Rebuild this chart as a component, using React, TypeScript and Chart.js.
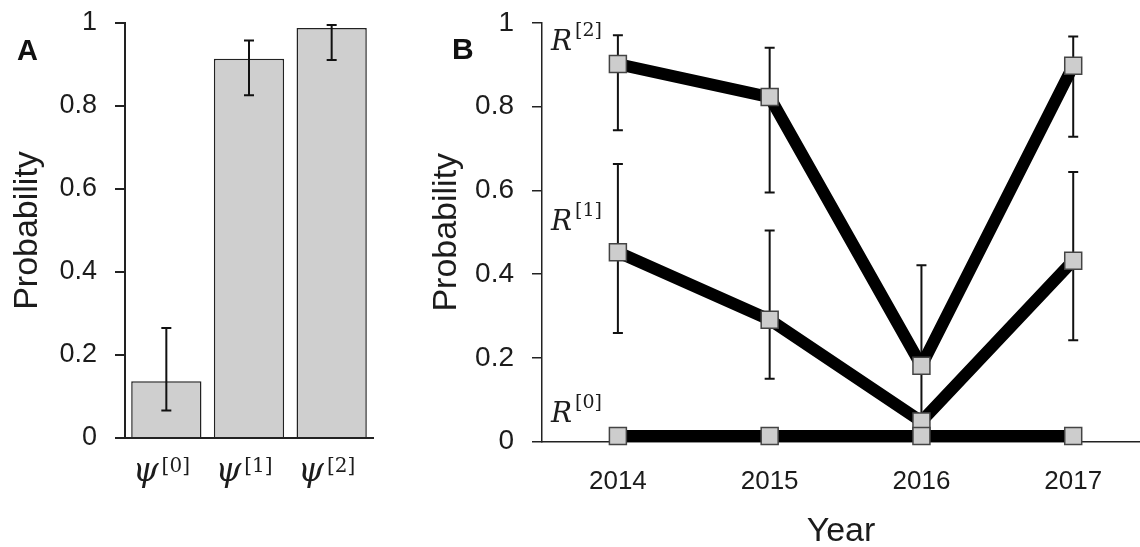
import React, { useEffect, useRef } from "react";
import { Chart, registerables } from "chart.js";
Chart.register(...registerables);

// ---------- Panel A data ----------
const psiSuperscripts = ["[0]", "[1]", "[2]"];
const barValues = [0.137, 0.914, 0.988];
const barErrLow = [0.066, 0.826, 0.911];
const barErrHigh = [0.265, 0.958, 0.995];

// ---------- Panel B data ----------
const years = [2014, 2015, 2016, 2017];
const r0Values = [0.013, 0.013, 0.013, 0.013];
const r1Values = [0.452, 0.291, 0.048, 0.432];
const r2Values = [0.902, 0.823, 0.181, 0.898];
const r1Low = [0.259, 0.15, null, 0.242];
const r1High = [0.663, 0.504, null, 0.644];
const r2Low = [0.744, 0.595, 0.0, 0.728];
const r2High = [0.971, 0.941, 0.421, 0.968];
const seriesSuperscripts = ["[0]", "[1]", "[2]"];
const seriesLabelValues = [0.047, 0.506, 0.935];

const SANS = "'Liberation Sans', Arial, sans-serif";
const SERIF = "'DejaVu Serif', 'Liberation Serif', serif";
const TEXT = "#1c1c1c";

const fmtTick = (v: any) => String(Math.round(Number(v) * 10) / 10);

function drawSup(ctx: CanvasRenderingContext2D, base: string, sup: string, cx: number, baseline: number, baseFont: string, supFont: string, supRise: number, center: boolean) {
  ctx.save();
  ctx.fillStyle = TEXT;
  ctx.textBaseline = "alphabetic";
  ctx.textAlign = "left";
  ctx.font = baseFont;
  const wb = ctx.measureText(base).width;
  ctx.font = supFont;
  const ws = ctx.measureText(sup).width;
  const gap = 3;
  const total = wb + gap + ws;
  const x0 = center ? cx - total / 2 : cx;
  ctx.font = baseFont;
  ctx.fillText(base, x0, baseline);
  ctx.font = supFont;
  ctx.fillText(sup, x0 + wb + gap, baseline - supRise);
  ctx.restore();
}

const panelAPlugin = {
  id: "panelA",
  afterDatasetsDraw(chart: any) {
    const ctx = chart.ctx;
    const y = chart.scales.y;
    const meta = chart.getDatasetMeta(0);
    ctx.save();
    ctx.strokeStyle = "#111";
    ctx.lineWidth = 2;
    barValues.forEach((_, i) => {
      const x = meta.data[i].x;
      const yl = y.getPixelForValue(barErrLow[i]);
      const yh = y.getPixelForValue(barErrHigh[i]);
      ctx.beginPath();
      ctx.moveTo(x, yl);
      ctx.lineTo(x, yh);
      ctx.moveTo(x - 5, yl);
      ctx.lineTo(x + 5, yl);
      ctx.moveTo(x - 5, yh);
      ctx.lineTo(x + 5, yh);
      ctx.stroke();
    });
    ctx.restore();
  },
  afterDraw(chart: any) {
    const ctx = chart.ctx;
    const xs = chart.scales.x;
    const bottom = chart.chartArea.bottom;
    psiSuperscripts.forEach((s, i) => {
      const x = xs.getPixelForValue(i);
      drawSup(ctx, "ψ", s, x - 5, bottom + 43, `italic 33px ${SERIF}`, `20px ${SERIF}`, 9, true);
    });
    ctx.save();
    ctx.fillStyle = "#111";
    ctx.font = `bold 29px ${SANS}`;
    ctx.textBaseline = "alphabetic";
    ctx.fillText("A", 17, 60);
    ctx.restore();
  },
};

const panelBPlugin = {
  id: "panelB",
  beforeDatasetsDraw(chart: any) {
    const ctx = chart.ctx;
    const xs = chart.scales.x;
    const ys = chart.scales.y;
    ctx.save();
    ctx.strokeStyle = "#111";
    ctx.lineWidth = 2;
    const groups = [
      [r1Low, r1High],
      [r2Low, r2High],
    ];
    groups.forEach(([lo, hi]) => {
      years.forEach((yr, i) => {
        if (lo[i] === null || hi[i] === null) return;
        const x = xs.getPixelForValue(yr);
        const yl = ys.getPixelForValue(lo[i] as number);
        const yh = ys.getPixelForValue(hi[i] as number);
        ctx.beginPath();
        ctx.moveTo(x, yl);
        ctx.lineTo(x, yh);
        ctx.moveTo(x - 5, yl);
        ctx.lineTo(x + 5, yl);
        ctx.moveTo(x - 5, yh);
        ctx.lineTo(x + 5, yh);
        ctx.stroke();
      });
    });
    ctx.restore();
  },
  afterDraw(chart: any) {
    const ctx = chart.ctx;
    const ys = chart.scales.y;
    const left = chart.chartArea.left;
    seriesSuperscripts.forEach((s, i) => {
      drawSup(ctx, "R", s, left + 9, ys.getPixelForValue(seriesLabelValues[i]), `italic 28px ${SERIF}`, `19px ${SERIF}`, 14, false);
    });
    ctx.save();
    ctx.fillStyle = "#111";
    ctx.font = `bold 30px ${SANS}`;
    ctx.textBaseline = "alphabetic";
    ctx.fillText("B", 52, 59);
    ctx.restore();
  },
};

export default function App() {
  const refA = useRef<HTMLCanvasElement>(null);
  const refB = useRef<HTMLCanvasElement>(null);

  useEffect(() => {
    const chartA = new Chart(refA.current!, {
      type: "bar",
      data: {
        labels: psiSuperscripts.map((s) => "ψ" + s),
        datasets: [
          {
            data: barValues,
            backgroundColor: "#cfcfcf",
            borderColor: "#222",
            borderWidth: 1.5,
            barPercentage: 0.85,
            categoryPercentage: 1,
          },
        ],
      },
      options: {
        responsive: false,
        animation: false,
        layout: { autoPadding: false, padding: { left: 0, right: 27, top: 23, bottom: 0 } },
        plugins: { legend: { display: false }, tooltip: { enabled: false } },
        scales: {
          x: {
            grid: { display: false, drawTicks: false },
            border: { color: "#222", width: 2 },
            ticks: { display: false },
            afterFit: (s: any) => {
              s.height = 109;
              s.paddingLeft = 0;
              s.paddingRight = 0;
            },
          },
          y: {
            min: 0,
            max: 1,
            ticks: { stepSize: 0.2, font: { family: SANS, size: 27 }, color: TEXT, padding: 18, callback: fmtTick },
            grid: { drawOnChartArea: false, tickLength: 10, color: "#222", lineWidth: 2 },
            border: { color: "#222", width: 2 },
            title: {
              display: true,
              text: "Probability",
              font: { family: SANS, size: 34 },
              color: TEXT,
              padding: { top: 7, bottom: 0 },
            },
            afterFit: (s: any) => {
              s.width = 125;
              s.paddingTop = 0;
              s.paddingBottom = 0;
            },
          },
        },
      } as any,
      plugins: [panelAPlugin],
    });

    const mk = (vals: number[]) => years.map((yr, i) => ({ x: yr, y: vals[i] }));
    const lineStyle = {
      borderColor: "#000",
      borderWidth: 12,
      borderJoinStyle: "bevel" as const,
      pointStyle: "rect" as const,
      pointRadius: 12,
      pointBackgroundColor: "#cdcdcd",
      pointBorderColor: "#444",
      pointBorderWidth: 1.5,
      tension: 0,
      clip: false as any,
    };
    const chartB = new Chart(refB.current!, {
      type: "line",
      data: {
        datasets: [
          { label: "R[0]", data: mk(r0Values), ...lineStyle },
          { label: "R[1]", data: mk(r1Values), ...lineStyle },
          { label: "R[2]", data: mk(r2Values), ...lineStyle },
        ],
      },
      options: {
        responsive: false,
        animation: false,
        layout: { autoPadding: false, padding: { left: 0, right: 0, top: 23, bottom: 0 } },
        plugins: { legend: { display: false }, tooltip: { enabled: false } },
        scales: {
          x: {
            type: "linear",
            min: 2013.5,
            max: 2017.44,
            afterBuildTicks: (s: any) => {
              s.ticks = years.map((v) => ({ value: v }));
            },
            ticks: {
              callback: (v: any) => String(v),
              font: { family: SANS, size: 26 },
              color: TEXT,
              padding: 25,
              autoSkip: false,
              maxRotation: 0,
            },
            grid: { display: false, drawTicks: false },
            border: { color: "#222", width: 1.5 },
            title: {
              display: true,
              text: "Year",
              font: { family: SANS, size: 34 },
              color: TEXT,
              padding: { top: 0, bottom: -5 },
            },
            afterFit: (s: any) => {
              s.height = 105.5;
              s.paddingLeft = 0;
              s.paddingRight = 0;
            },
          },
          y: {
            min: 0,
            max: 1,
            ticks: { stepSize: 0.2, font: { family: SANS, size: 28 }, color: TEXT, padding: 18, callback: fmtTick },
            grid: { drawOnChartArea: false, tickLength: 10, color: "#222", lineWidth: 1.5 },
            border: { color: "#222", width: 1.5 },
            title: {
              display: true,
              text: "Probability",
              font: { family: SANS, size: 34 },
              color: TEXT,
              padding: { top: 26, bottom: 0 },
            },
            afterFit: (s: any) => {
              s.width = 142;
              s.paddingTop = 0;
              s.paddingBottom = 0;
            },
          },
        },
      } as any,
      plugins: [panelBPlugin],
    });

    return () => {
      chartA.destroy();
      chartB.destroy();
    };
  }, []);

  return (
    <div style={{ position: "absolute", left: 0, top: 0, width: 1140, height: 547, background: "#fff", overflow: "hidden" }}>
      <canvas ref={refA} width={400} height={547} style={{ position: "absolute", left: 0, top: 0, width: 400, height: 547 }} />
      <canvas ref={refB} width={740} height={547} style={{ position: "absolute", left: 400, top: 0, width: 740, height: 547 }} />
    </div>
  );
}
